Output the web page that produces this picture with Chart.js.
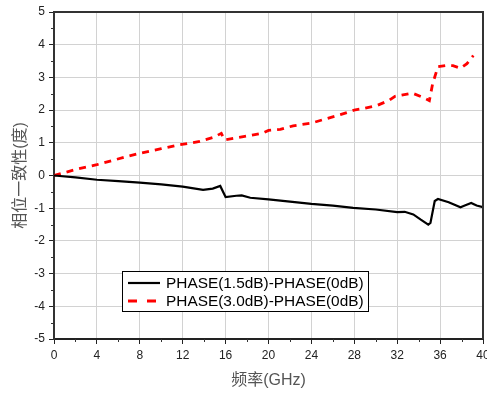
<!DOCTYPE html>
<html>
<head>
<meta charset="utf-8">
<script src="https://cdn.jsdelivr.net/npm/chart.js@4.4.1/dist/chart.umd.min.js"></script>
<style>
  html, body { margin: 0; padding: 0; background: #fff; }
  canvas { display: block; }
</style>
</head>
<body>
<canvas id="chart" width="487" height="394"></canvas>
<script>
// black curve: PHASE(1.5dB)-PHASE(0dB)
const freqA = [0, 2, 4, 6, 8, 10, 12, 13.9, 14.8, 15.5, 16.0, 17.0, 17.5, 18.3, 20, 22, 24, 26, 27.9, 30, 32, 32.7, 33.5, 34.2, 34.9, 35.1, 35.5, 35.8, 36.8, 37.9, 38.3, 38.9, 39.4, 40];
const phaseA = [0, -0.06, -0.13, -0.17, -0.22, -0.27, -0.34, -0.44, -0.40, -0.32, -0.66, -0.62, -0.61, -0.68, -0.73, -0.80, -0.87, -0.92, -0.99, -1.04, -1.12, -1.11, -1.19, -1.35, -1.50, -1.45, -0.78, -0.72, -0.82, -0.97, -0.92, -0.84, -0.92, -0.97];

// red dashed curve: PHASE(3.0dB)-PHASE(0dB)
const freqB = [0, 2.1, 4, 6.8, 8, 10, 11.7, 13.6, 14.9, 15.6, 15.9, 17.0, 18.6, 19.4, 20, 21.1, 22.3, 24, 25, 26.7, 28.1, 28.7, 30.1, 31.2, 31.8, 33.4, 34.4, 35, 35.3, 35.8, 36.5, 37.2, 37.9, 38.5, 39.1];
const phaseB = [0, 0.19, 0.33, 0.58, 0.68, 0.82, 0.94, 1.04, 1.17, 1.29, 1.09, 1.15, 1.24, 1.29, 1.38, 1.41, 1.52, 1.60, 1.70, 1.86, 2.01, 2.04, 2.14, 2.29, 2.42, 2.52, 2.39, 2.29, 2.80, 3.33, 3.36, 3.36, 3.28, 3.42, 3.67];

const seriesNames = ['PHASE(1.5dB)-PHASE(0dB)', 'PHASE(3.0dB)-PHASE(0dB)'];
const xTitle = '频率(GHz)';
const yTitle = '相位一致性(度)';

const FONT = '"Liberation Sans", Arial, "Noto Sans CJK SC", sans-serif';

function toPoints(xs, ys) {
    let pts = [];
    for (let i = 0; i < xs.length; i++) {
        pts.push({x: xs[i], y: ys[i]});
    }
    return pts;
}

// top/right frame, minor ticks and the boxed legend
const extrasPlugin = {
    id: 'extras',
    afterDraw(chart) {
        const ctx = chart.ctx,
            area = chart.chartArea,
            xs = chart.scales.x,
            ys = chart.scales.y;

        ctx.save();
        ctx.strokeStyle = '#333';
        ctx.lineWidth = 2;
        ctx.beginPath();
        ctx.moveTo(area.left, area.top);
        ctx.lineTo(area.right, area.top);
        ctx.lineTo(area.right, area.bottom);
        ctx.stroke();

        ctx.lineWidth = 1;
        ctx.beginPath();
        for (let v = 2; v < 40; v += 4) {
            let px = Math.round(xs.getPixelForValue(v)) + 0.5;
            ctx.moveTo(px, area.bottom);
            ctx.lineTo(px, area.bottom + 3);
        }
        for (let v = -4.5; v < 5; v += 1) {
            let py = Math.round(ys.getPixelForValue(v)) + 0.5;
            ctx.moveTo(area.left, py);
            ctx.lineTo(area.left - 3, py);
        }
        ctx.stroke();

        // legend
        const lx = 122, ly = 271, lw = 246, lh = 40;
        ctx.fillStyle = '#fff';
        ctx.fillRect(lx, ly, lw, lh);
        ctx.strokeStyle = '#000';
        ctx.lineWidth = 1;
        ctx.strokeRect(lx + 0.5, ly + 0.5, lw, lh);

        const ds = chart.data.datasets;
        ctx.font = '15.4px ' + FONT;
        ctx.textBaseline = 'middle';
        ctx.textAlign = 'left';
        for (let i = 0; i < ds.length; i++) {
            let rowY = ly + 12 + i * 18;
            ctx.strokeStyle = ds[i].borderColor;
            ctx.lineWidth = ds[i].borderWidth;
            ctx.setLineDash(i === 1 ? [9, 10] : []);
            ctx.beginPath();
            ctx.moveTo(lx + 6, rowY);
            ctx.lineTo(lx + 38, rowY);
            ctx.stroke();
            ctx.setLineDash([]);
            ctx.fillStyle = '#000';
            ctx.fillText(ds[i].label, lx + 44, rowY + 1);
        }
        ctx.restore();
    },
};

new Chart(document.getElementById('chart'), {
    type: 'line',
    data: {
        datasets: [{
            label: seriesNames[0],
            data: toPoints(freqA, phaseA),
            borderColor: '#000',
            borderWidth: 2.2,
            pointRadius: 0,
            tension: 0,
        }, {
            label: seriesNames[1],
            data: toPoints(freqB, phaseB),
            borderColor: '#ff0000',
            borderWidth: 2.8,
            borderDash: [7, 6],
            pointRadius: 0,
            tension: 0,
        }],
    },
    options: {
        responsive: false,
        animation: false,
        devicePixelRatio: 1,
        layout: {padding: {left: 0, right: 4, top: 12, bottom: 0}},
        plugins: {
            legend: {display: false},
            tooltip: {enabled: false},
        },
        scales: {
            x: {
                type: 'linear',
                min: 0,
                max: 40,
                afterFit: (scale) => {
                    scale.height = 55;
                    scale.paddingLeft = 0;
                    scale.paddingRight = 0;
                },
                ticks: {stepSize: 4, padding: 4, color: '#222', font: {family: FONT, size: 12}, maxRotation: 0},
                grid: {color: '#d2d2d2', lineWidth: 1, tickColor: '#222', tickLength: 5},
                border: {color: '#222', width: 2},
                title: {display: true, text: xTitle, color: '#555', font: {family: FONT, size: 16}, padding: {top: 4, bottom: 4}},
            },
            y: {
                type: 'linear',
                min: -5,
                max: 5,
                afterFit: (scale) => {
                    scale.width = 54;
                    scale.paddingTop = 0;
                    scale.paddingBottom = 0;
                },
                ticks: {stepSize: 1, padding: 4, color: '#222', font: {family: FONT, size: 12}},
                grid: {color: '#d2d2d2', lineWidth: 1, tickColor: '#222', tickLength: 5},
                border: {color: '#333', width: 2},
                title: {display: true, text: yTitle, color: '#555', font: {family: FONT, size: 16}, padding: {top: 11, bottom: 4}},
            },
        },
    },
    plugins: [extrasPlugin],
});
</script>
</body>
</html>
